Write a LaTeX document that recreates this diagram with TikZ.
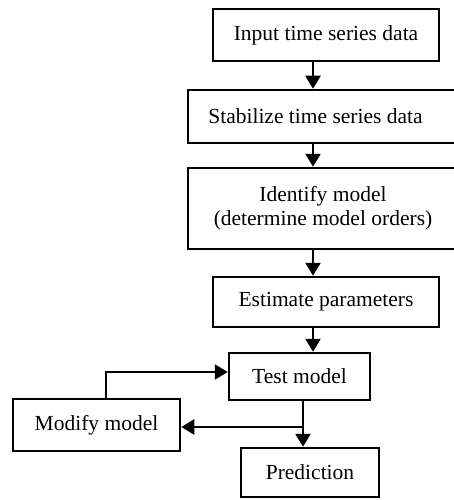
\documentclass[tikz,border=0pt]{standalone}
\usepackage{fontspec}
\setmainfont{Liberation Serif}
\usetikzlibrary{arrows.meta}
\tikzset{
  box/.style={draw, line width=2.5pt, rectangle, align=center, inner sep=0pt,
    font=\fontsize{21.5}{24}\selectfont},
  arr/.style={line width=2.5pt, -{Triangle[length=13pt,width=15pt]}}
}
\begin{document}
\begin{tikzpicture}[x=1pt,y=-1pt]
\useasboundingbox (0,0) rectangle (454,500);
\node[box, minimum width=226pt, minimum height=52pt] (inp) at (326,35) {Input time series data};
\node[box, minimum width=284pt, minimum height=53pt] (stab) at (330,116.5) {Stabilize time series data\hspace*{29pt}};
\node[box, minimum width=284pt, minimum height=81pt] (ident) at (330,208.5) {Identify model\hspace*{14pt}\\(determine model orders)\hspace*{14pt}};
\node[box, minimum width=226pt, minimum height=50pt] (est) at (326,302) {Estimate parameters};
\node[box, minimum width=141pt, minimum height=47pt] (tst) at (299.5,376.5) {Test model};
\node[box, minimum width=167pt, minimum height=52pt] (mod) at (96.5,425) {Modify model};
\node[box, minimum width=138pt, minimum height=49pt] (pred) at (310,472.5) {Prediction};
\coordinate (ax) at (313,0);
\coordinate (bx) at (303,0);
\coordinate (split) at (303,427);
\coordinate (turn) at (106,372);
\draw[arr] (inp.south -| ax) -- (stab.north -| ax);
\draw[arr] (stab.south -| ax) -- (ident.north -| ax);
\draw[arr] (ident.south -| ax) -- (est.north -| ax);
\draw[arr] (est.south -| ax) -- (tst.north -| ax);
\draw[arr] (tst.south -| bx) -- (pred.north -| bx);
\draw[arr] (split) -- (mod.east |- split);
\draw[arr] (mod.north -| turn) -- (turn) -- (tst.west |- turn);
\end{tikzpicture}
\end{document}
